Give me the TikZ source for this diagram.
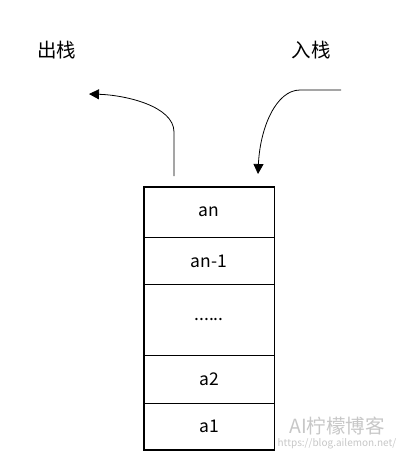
\documentclass[tikz,border=0pt]{standalone}
\usepackage{fontspec}
\setmainfont{Noto Sans CJK SC}
\usetikzlibrary{arrows.meta}
\begin{document}
\begin{tikzpicture}[x=1pt,y=-1pt,
  cell/.style={draw=black,line width=0.8pt,minimum width=130pt,inner sep=0pt,font=\fontsize{17.5}{20}\selectfont,anchor=north},
  lbl/.style={font=\fontsize{19.5}{22}\selectfont},
  flow/.style={line width=0.8pt,-{Triangle[length=10pt,width=10pt]}},
  wm/.style={text=black!22,inner sep=0pt}]
\useasboundingbox (0,0) rectangle (416,475);
\node[cell,minimum height=50pt] (an) at (209,187) {\raisebox{2pt}{an}\hspace{6pt}};
\node[cell,minimum height=47pt] (an1) at (209,237) {an-1\hspace{6pt}};
\node[cell,minimum height=71pt] (dots) at (209,284) {\raisebox{2pt}{......}\hspace{6pt}};
\node[cell,minimum height=48pt] (a2) at (209,355) {a2\hspace{4pt}};
\node[cell,minimum height=46pt] (a1) at (209,403) {a1};
\draw[line width=1.8pt] (an.north west) rectangle (a1.south east);
\node[lbl] (out) at (57,50) {出栈};
\node[lbl] (in) at (311,50) {入栈};
\coordinate (outs) at (174,176);
\coordinate (oute) at (89,94);
\coordinate (ins) at (341,90);
\coordinate (ine) at (258,174);
\draw[flow] (outs) -- (174,132) .. controls (174,106) and (125,95) .. (oute);
\draw[flow] (ins) -- (300,90) .. controls (276,90) and (260,128) .. (ine);
\node[wm,font=\fontsize{19.5}{22}\selectfont] (wm1) at (337,426) {AI柠檬博客};
\node[wm,font=\fontsize{10}{12}\selectfont] (wm2) at (337,444) {https://blog.ailemon.net/};
\end{tikzpicture}
\end{document}
